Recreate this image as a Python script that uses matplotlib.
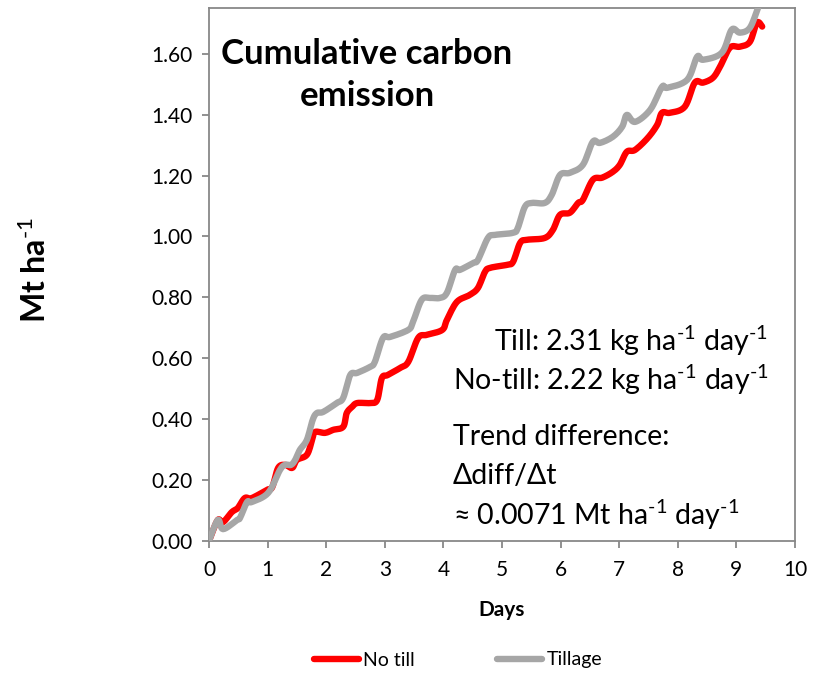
import matplotlib
matplotlib.use("Agg")
import numpy as np
import matplotlib.pyplot as plt
from matplotlib.lines import Line2D

plt.rcParams['font.family'] = ['Lato', 'DejaVu Sans']
plt.rcParams['mathtext.fontset'] = 'custom'
plt.rcParams['mathtext.rm'] = 'Lato'
plt.rcParams['mathtext.it'] = 'Lato:italic'
plt.rcParams['mathtext.bf'] = 'Lato:bold'

# Cumulative emission, no till (days, Mt/ha)
no_till_days = [0.00, 0.02, 0.15, 0.24, 0.39, 0.49, 0.61, 0.73, 0.99, 1.08, 1.18, 1.30,
                1.42, 1.50, 1.67, 1.76, 1.81, 1.98, 2.12, 2.29, 2.35, 2.44, 2.53, 2.75,
                2.87, 2.95, 3.05, 3.26, 3.40, 3.57, 3.72, 3.98, 4.06, 4.23, 4.45, 4.59,
                4.71, 4.80, 5.09, 5.19, 5.31, 5.43, 5.73, 5.87, 5.99, 6.16, 6.30, 6.38,
                6.55, 6.71, 6.89, 7.01, 7.13, 7.27, 7.49, 7.65, 7.73, 7.87, 8.12, 8.29,
                8.43, 8.60, 8.72, 8.89, 9.06, 9.23, 9.35, 9.44]
no_till_vals = [0.000, 0.010, 0.069, 0.062, 0.095, 0.108, 0.141, 0.141, 0.168, 0.177, 0.240, 0.250,
                0.240, 0.266, 0.283, 0.332, 0.358, 0.355, 0.365, 0.375, 0.420, 0.440, 0.453, 0.453,
                0.463, 0.535, 0.545, 0.568, 0.588, 0.667, 0.677, 0.693, 0.726, 0.785, 0.808, 0.831,
                0.884, 0.897, 0.907, 0.917, 0.979, 0.989, 0.995, 1.022, 1.071, 1.078, 1.110, 1.120,
                1.186, 1.193, 1.212, 1.235, 1.278, 1.284, 1.324, 1.367, 1.406, 1.406, 1.426, 1.505,
                1.505, 1.521, 1.557, 1.620, 1.623, 1.639, 1.702, 1.689]

# Cumulative emission, tillage (days, Mt/ha)
tillage_days = [0.00, 0.15, 0.24, 0.48, 0.53, 0.65, 0.73, 1.01, 1.21, 1.30, 1.40, 1.47,
                1.55, 1.67, 1.77, 1.84, 1.95, 2.18, 2.29, 2.41, 2.53, 2.75, 2.83, 2.97,
                3.09, 3.40, 3.48, 3.63, 3.77, 3.94, 4.06, 4.20, 4.28, 4.51, 4.59, 4.76,
                4.88, 5.19, 5.27, 5.39, 5.51, 5.73, 5.85, 5.99, 6.16, 6.38, 6.55, 6.67,
                6.89, 7.05, 7.13, 7.27, 7.53, 7.73, 7.82, 8.16, 8.33, 8.43, 8.75, 8.92,
                9.06, 9.23, 9.37, 9.44]
tillage_vals = [0.000, 0.069, 0.039, 0.069, 0.076, 0.128, 0.128, 0.158, 0.233, 0.250, 0.250, 0.266,
                0.299, 0.332, 0.398, 0.420, 0.424, 0.453, 0.470, 0.545, 0.552, 0.572, 0.588, 0.667,
                0.670, 0.693, 0.719, 0.792, 0.798, 0.798, 0.815, 0.890, 0.890, 0.913, 0.923, 0.995,
                1.005, 1.012, 1.028, 1.097, 1.110, 1.110, 1.137, 1.202, 1.209, 1.235, 1.311, 1.307,
                1.327, 1.360, 1.399, 1.376, 1.416, 1.491, 1.488, 1.514, 1.590, 1.580, 1.603, 1.679,
                1.669, 1.685, 1.751, 1.784]

x_ticks = [0, 1, 2, 3, 4, 5, 6, 7, 8, 9, 10]
y_ticks = [0.0, 0.2, 0.4, 0.6, 0.8, 1.0, 1.2, 1.4, 1.6]

RED = '#FF0000'
GREY = '#A6A6A6'
AXIS = '#888888'


def smooth_path(xs, ys, steps=8):
    """Catmull-Rom rendering of a polyline, like a spreadsheet 'smoothed line'."""
    p = np.column_stack([xs, ys]).astype(float)
    p = np.vstack([p[0], p, p[-1]])
    out = []
    t = np.linspace(0, 1, steps, endpoint=False)[:, None]
    for i in range(1, len(p) - 2):
        p0, p1, p2, p3 = p[i - 1], p[i], p[i + 1], p[i + 2]
        seg = 0.5 * ((2 * p1) + (-p0 + p2) * t + (2 * p0 - 5 * p1 + 4 * p2 - p3) * t ** 2
                     + (-p0 + 3 * p1 - 3 * p2 + p3) * t ** 3)
        out.append(seg)
    out.append(p[-2][None, :])
    out = np.vstack(out)
    return out[:, 0], out[:, 1]


fig = plt.figure(figsize=(8.25, 6.77), dpi=100)
ax = fig.add_axes([209/825, 1 - 541/677, (795 - 209)/825, (541 - 8)/677])

sx, sy = smooth_path(no_till_days, no_till_vals)
ax.plot(sx, sy, color=RED, lw=4.6, solid_joinstyle='round',
        solid_capstyle='round', label='No till', zorder=2)
sx, sy = smooth_path(tillage_days, tillage_vals)
ax.plot(sx, sy, color=GREY, lw=4.6, solid_joinstyle='round',
        solid_capstyle='round', label='Tillage', zorder=3)

ax.set_xlim(0, 10)
ax.set_ylim(0, 1.75)
ax.set_xticks(x_ticks)
ax.set_yticks(y_ticks)
ax.set_xticklabels([str(t) for t in x_ticks])
ax.set_yticklabels([f'{t:.2f}' for t in y_ticks])
ax.tick_params(axis='both', direction='out', length=5, width=1.3, color=AXIS,
               labelsize=15, labelcolor='black')
ax.tick_params(axis='x', pad=9)
ax.tick_params(axis='y', pad=7)
for s in ax.spines.values():
    s.set_color(AXIS)
    s.set_linewidth(1.3)

ax.set_xlabel('Days', fontsize=15, fontweight='bold', labelpad=14)
fig.text(35/825, 1 - 270/677, r'Mt ha$^{\mathbf{\text{-1}}}$', rotation=90, fontsize=23,
         fontweight='bold', ha='center', va='center')

fig.text(367/825, 1 - 75/677, 'Cumulative carbon\nemission', fontsize=25,
         fontweight='bold', ha='center', va='center', linespacing=1.4)

fs = 20.5
sup = r'$^{\text{-1}}$'
fig.text(768/825, 1 - 341/677, f'Till: 2.31 kg ha{sup} day{sup}', fontsize=fs,
         ha='right', va='center')
fig.text(453/825, 1 - 380/677, f'No-till: 2.22 kg ha{sup} day{sup}', fontsize=fs,
         ha='left', va='center')
fig.text(453/825, 1 - 437/677, 'Trend difference:', fontsize=fs, ha='left', va='center')
fig.text(453/825, 1 - 476/677, 'Δdiff/Δt', fontsize=fs, ha='left', va='center')
fig.text(453/825, 1 - 515/677, f'≈ 0.0071 Mt ha{sup} day{sup}', fontsize=fs,
         ha='left', va='center')

handles = [Line2D([], [], color=RED, lw=4.6, solid_capstyle='round'),
           Line2D([], [], color=GREY, lw=4.6, solid_capstyle='round')]
fig.legend(handles, ['No till', 'Tillage'], loc='center', bbox_to_anchor=(458/825, 1 - 660/677),
           ncol=2, frameon=False, fontsize=14, handlelength=2.3, handletextpad=0.25,
           columnspacing=4.2)

fig.savefig('out.png', dpi=100)
